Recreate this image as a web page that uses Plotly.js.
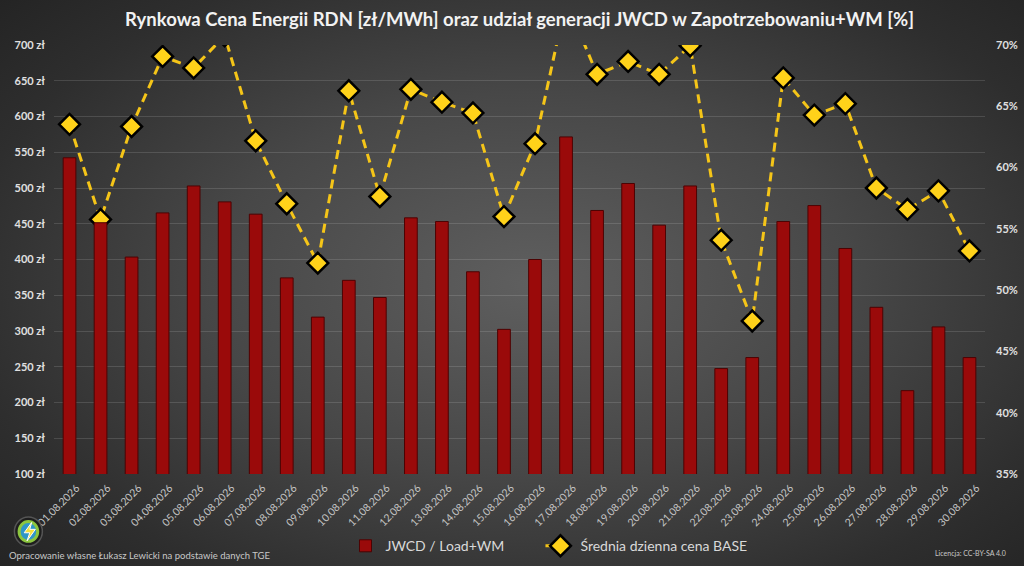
<!DOCTYPE html>
<html>
<head>
<meta charset="utf-8">
<script src="https://cdn.plot.ly/plotly-3.0.1.min.js"></script>
<style>
  html, body { margin: 0; padding: 0; width: 1024px; height: 566px; overflow: hidden; }
  body { background: radial-gradient(ellipse 70% 75% at 52% 50%, #5f5f5f 0%, #474747 45%, #2e2e2e 80%, #242424 100%); }
  #chart { width: 1024px; height: 566px; }
</style>
</head>
<body>
<div id="chart"></div>
<script>
const dates = ["01.08.2026","02.08.2026","03.08.2026","04.08.2026","05.08.2026","06.08.2026","07.08.2026","08.08.2026","09.08.2026","10.08.2026","11.08.2026","12.08.2026","13.08.2026","14.08.2026","15.08.2026","16.08.2026","17.08.2026","18.08.2026","19.08.2026","20.08.2026","21.08.2026","22.08.2026","23.08.2026","24.08.2026","25.08.2026","26.08.2026","27.08.2026","28.08.2026","29.08.2026","30.08.2026"];
const jwcdShare = [60.8, 55.5, 52.7, 56.3, 58.5, 57.2, 56.2, 51.0, 47.8, 50.8, 49.4, 55.9, 55.6, 51.5, 46.8, 52.5, 62.5, 56.5, 58.7, 55.3, 58.5, 43.6, 44.5, 55.6, 56.9, 53.4, 48.6, 41.8, 47.0, 44.5];
const basePrice = [589, 456, 586, 684, 668, 713, 566, 478, 395, 636, 488, 638, 620, 605, 460, 562, 762, 659, 677, 659, 699, 427, 314, 654, 602, 618, 500, 470, 496, 412];

const FONT = "Lato, 'Open Sans', sans-serif";

const traces = [
  {
    type: 'bar', name: 'JWCD / Load+WM', x: dates, y: jwcdShare, yaxis: 'y2', legend: 'legend',
    marker: { color: '#9a0a0a', line: { color: '#4d0303', width: 1 } },
    hoverinfo: 'x+y'
  },
  {
    type: 'scatter', mode: 'lines+markers', name: 'Średnia dzienna cena BASE', x: dates, y: basePrice, yaxis: 'y', legend: 'legend2',
    line: { color: '#f5c518', width: 3, dash: '9px,6px' },
    marker: { symbol: 'diamond', size: 16, color: '#ffd21a', line: { color: '#000000', width: 2.5 } },
    cliponaxis: true
  }
];

const legendBase = {
  orientation: 'h', xref: 'container', yref: 'container', xanchor: 'left', y: 0.035, yanchor: 'middle',
  font: { family: FONT, size: 14, color: '#d9d9d9' },
  bgcolor: 'rgba(0,0,0,0)', itemwidth: 30
};

const layout = {
  width: 1024, height: 566,
  margin: { l: 54, r: 39, t: 45, b: 92, autoexpand: false },
  paper_bgcolor: 'rgba(0,0,0,0)',
  plot_bgcolor: 'rgba(0,0,0,0)',
  font: { family: FONT, color: '#d9d9d9' },
  title: {
    text: 'Rynkowa Cena Energii RDN [zł/MWh] oraz udział generacji JWCD w Zapotrzebowaniu+WM [%]',
    font: { family: FONT, size: 18.5, color: '#f2f2f2', weight: 'bold' },
    x: 0.5, xref: 'paper', y: 0.965, yanchor: 'middle'
  },
  bargap: 0.59,
  showlegend: true,
  legend: Object.assign({}, legendBase, { x: 0.3374 }),
  legend2: Object.assign({}, legendBase, { x: 0.5278 }),
  xaxis: {
    type: 'category', range: [-0.5, 29.5], autorange: false, tickangle: -45, automargin: false,
    tickfont: { family: FONT, size: 10.5, color: '#c4c4c4' },
    showgrid: false, zeroline: false, showline: false, ticks: '', ticklabelstandoff: 5, ticklabelshift: 7
  },
  yaxis: {
    range: [100, 700], dtick: 50, ticksuffix: ' zł', automargin: false,
    tickfont: { family: FONT, size: 11, color: '#e0e0e0', weight: 'bold' },
    gridcolor: 'rgba(255,255,255,0.13)', gridwidth: 1,
    zeroline: false, showline: false, ticks: '', ticklabelstandoff: 8
  },
  yaxis2: {
    range: [35, 70], dtick: 5, ticksuffix: '%', overlaying: 'y', side: 'right', automargin: false,
    tickfont: { family: FONT, size: 11, color: '#e0e0e0', weight: 'bold' },
    showgrid: false, zeroline: false, showline: false, ticks: '', ticklabelstandoff: 10
  },
  shapes: [
    { type: 'circle', xref: 'paper', yref: 'paper', x0: -0.0425, x1: -0.0125, y0: -0.168, y1: -0.100, fillcolor: '#1e1e1e', line: { color: '#555555', width: 1.5 } },
    { type: 'circle', xref: 'paper', yref: 'paper', x0: -0.0375, x1: -0.0175, y0: -0.157, y1: -0.111, fillcolor: '#2f96c8', line: { color: '#8cc63f', width: 3 } },
    { type: 'path', xref: 'paper', yref: 'paper', path: 'M -0.024 -0.113 L -0.032 -0.137 L -0.026 -0.137 L -0.029 -0.156 L -0.020 -0.129 L -0.026 -0.129 Z', fillcolor: '#f4e23c', line: { color: '#ffffff', width: 1 } }
  ],
  annotations: [
    { text: 'Opracowanie własne Łukasz Lewicki na podstawie danych TGE', xref: 'paper', yref: 'paper', x: -0.050, y: -0.191, xanchor: 'left', yanchor: 'middle', showarrow: false, font: { family: FONT, size: 9.5, color: '#c8c8c8' } },
    { text: 'Licencja: CC-BY-SA 4.0', xref: 'paper', yref: 'paper', x: 1.025, y: -0.184, xanchor: 'right', yanchor: 'middle', showarrow: false, font: { family: FONT, size: 7, color: '#c8c8c8' } }
  ]
};

Plotly.newPlot('chart', traces, layout, { displayModeBar: false, staticPlot: true });
</script>
</body>
</html>
